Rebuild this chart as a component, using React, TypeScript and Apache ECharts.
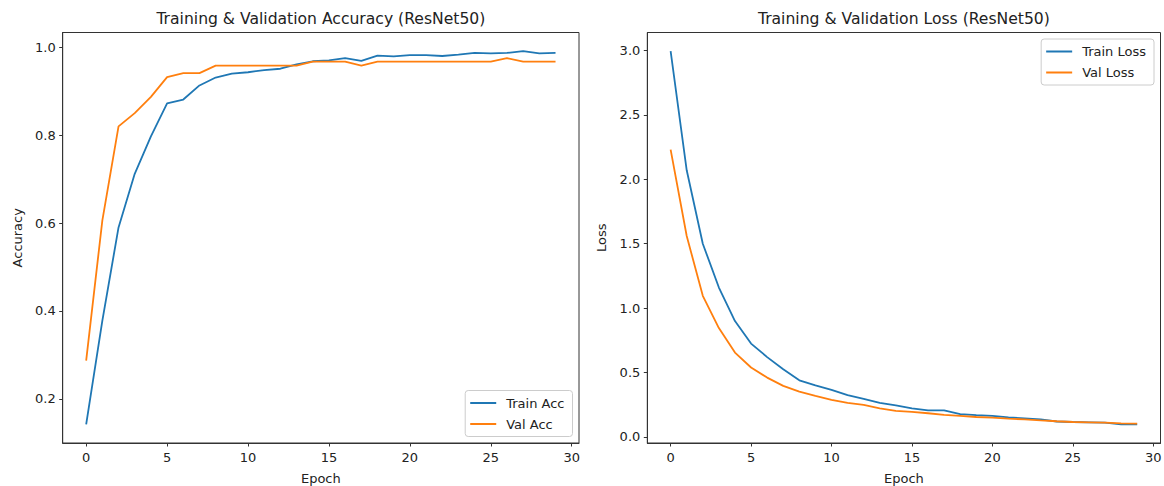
import React, { useEffect, useRef } from "react";
import * as echarts from "echarts";

const epochs = [0, 1, 2, 3, 4, 5, 6, 7, 8, 9, 10, 11, 12, 13, 14, 15, 16, 17, 18, 19, 20, 21, 22, 23, 24, 25, 26, 27, 28, 29];

const trainAcc = [0.142, 0.378, 0.59, 0.712, 0.797, 0.872, 0.881, 0.913, 0.931, 0.94, 0.943, 0.948, 0.951, 0.961, 0.968, 0.97, 0.975, 0.969, 0.981, 0.979, 0.982, 0.982, 0.98, 0.983, 0.987, 0.986, 0.987, 0.991, 0.986, 0.987];
const valAcc = [0.287, 0.606, 0.82, 0.85, 0.887, 0.932, 0.941, 0.941, 0.958, 0.958, 0.958, 0.958, 0.958, 0.958, 0.967, 0.967, 0.967, 0.958, 0.967, 0.967, 0.967, 0.967, 0.967, 0.967, 0.967, 0.967, 0.975, 0.967, 0.967, 0.967];

const trainLoss = [2.995, 2.07, 1.5, 1.16, 0.9, 0.725, 0.62, 0.526, 0.44, 0.4, 0.365, 0.325, 0.295, 0.265, 0.245, 0.222, 0.207, 0.207, 0.178, 0.17, 0.163, 0.152, 0.145, 0.137, 0.12, 0.116, 0.114, 0.111, 0.098, 0.098];
const valLoss = [2.23, 1.56, 1.096, 0.845, 0.655, 0.539, 0.461, 0.397, 0.352, 0.319, 0.288, 0.265, 0.249, 0.222, 0.203, 0.194, 0.184, 0.171, 0.163, 0.155, 0.15, 0.142, 0.137, 0.129, 0.122, 0.116, 0.114, 0.111, 0.106, 0.103];

const xTicks = [0, 5, 10, 15, 20, 25, 30];
const accTicks = [0.2, 0.4, 0.6, 0.8, 1.0];
const lossTicks = [0, 0.5, 1.0, 1.5, 2.0, 2.5, 3.0];

const titles = ["Training & Validation Accuracy (ResNet50)", "Training & Validation Loss (ResNet50)"];

const BLUE = "#1f77b4";
const ORANGE = "#ff7f0e";
const INK = "#222222";
const SPINE = "#333333";
const FONT = "DejaVu Sans";

function padRange(arrs: number[][]) {
  const all = arrs.flat();
  const mn = Math.min(...all);
  const mx = Math.max(...all);
  const p = (mx - mn) * 0.05;
  return [mn - p, mx + p];
}

export default function App() {
  const ref = useRef<HTMLDivElement>(null);
  useEffect(() => {
    if (!ref.current) return;
    const chart = echarts.init(ref.current, null, { renderer: "svg" });
    const xr = padRange([epochs]);
    const ar = padRange([trainAcc, valAcc]);
    const lr = padRange([trainLoss, valLoss]);

    const W = 1164, H = 486;
    const grids = [
      { left: 62.7, right: W - 579, top: 32.5, bottom: H - 443 },
      { left: 647.3, right: W - 1160.5, top: 32.5, bottom: H - 443 },
    ];

    const xAxisBase = (gi: number) => ({
      type: "value",
      gridIndex: gi,
      min: xr[0],
      max: xr[1],
      name: "Epoch",
      nameLocation: "middle",
      nameGap: 28.5,
      nameTextStyle: { color: INK, fontSize: 13, fontFamily: FONT },
      splitLine: { show: false },
      axisLine: { show: true, onZero: false, lineStyle: { color: SPINE, width: 1 } },
      axisTick: { show: true, length: 3.5, customValues: xTicks, lineStyle: { color: SPINE } },
      axisLabel: {
        customValues: xTicks,
        color: INK,
        fontSize: 13,
        fontFamily: FONT,
        margin: 7.5,
        formatter: (v: number) => String(Math.round(v)),
      },
    });

    const yAxisBase = (gi: number, range: number[], ticks: number[], name: string) => ({
      type: "value",
      gridIndex: gi,
      min: range[0],
      max: range[1],
      name,
      nameLocation: "middle",
      nameGap: 39,
      nameTextStyle: { color: INK, fontSize: 13, fontFamily: FONT },
      splitLine: { show: false },
      axisLine: { show: true, onZero: false, lineStyle: { color: SPINE, width: 1 } },
      axisTick: { show: true, length: 3.5, customValues: ticks, lineStyle: { color: SPINE } },
      axisLabel: {
        customValues: ticks,
        color: INK,
        fontSize: 13,
        fontFamily: FONT,
        margin: 7,
        formatter: (v: number) => v.toFixed(1),
      },
    });

    const legendBase = {
      orient: "vertical",
      icon: "rect",
      itemWidth: 26,
      itemHeight: 2,
      itemGap: 7,
      padding: [5.5, 8, 5.5, 5],
      borderColor: "#cccccc",
      borderWidth: 1,
      borderRadius: 3,
      backgroundColor: "rgba(255,255,255,0.8)",
      textStyle: { color: INK, fontSize: 13, fontFamily: FONT, lineHeight: 14, padding: [0, 0, 0, 5] },
    };

    const line = (name: string, vals: number[], color: string, gi: number) => ({
      type: "line",
      name,
      xAxisIndex: gi,
      yAxisIndex: gi,
      data: epochs.map((e, i) => [e, vals[i]]),
      showSymbol: false,
      symbol: "none",
      lineStyle: { width: 1.8, color },
      itemStyle: { color },
      emphasis: { disabled: true },
    });

    chart.setOption({
      animation: false,
      backgroundColor: "#ffffff",
      textStyle: { fontFamily: FONT },
      title: [
        {
          text: titles[0],
          left: (62.7 + 579) / 2,
          top: 9.5,
          textAlign: "center",
          padding: 0,
          textStyle: { color: INK, fontSize: 15.6, fontWeight: "normal", fontFamily: FONT, lineHeight: 18 },
        },
        {
          text: titles[1],
          left: (647.3 + 1160.5) / 2,
          top: 9.5,
          textAlign: "center",
          padding: 0,
          textStyle: { color: INK, fontSize: 15.6, fontWeight: "normal", fontFamily: FONT, lineHeight: 18 },
        },
      ],
      grid: grids.map((g) => ({
        ...g,
        show: true,
        borderColor: SPINE,
        borderWidth: 1,
        backgroundColor: "transparent",
        containLabel: false,
        outerBoundsMode: "none",
      })),
      xAxis: [xAxisBase(0), xAxisBase(1)],
      yAxis: [yAxisBase(0, ar, accTicks, "Accuracy"), yAxisBase(1, lr, lossTicks, "Loss")],
      legend: [
        { ...legendBase, data: ["Train Acc", "Val Acc"], right: W - 572.5, bottom: H - 436.5 },
        { ...legendBase, data: ["Train Loss", "Val Loss"], right: W - 1154, top: 39 },
      ],
      series: [
        line("Train Acc", trainAcc, BLUE, 0),
        line("Val Acc", valAcc, ORANGE, 0),
        line("Train Loss", trainLoss, BLUE, 1),
        line("Val Loss", valLoss, ORANGE, 1),
      ],
    });
    return () => chart.dispose();
  }, []);
  return <div ref={ref} style={{ position: "absolute", left: 0, top: 0, width: 1164, height: 486 }} />;
}
